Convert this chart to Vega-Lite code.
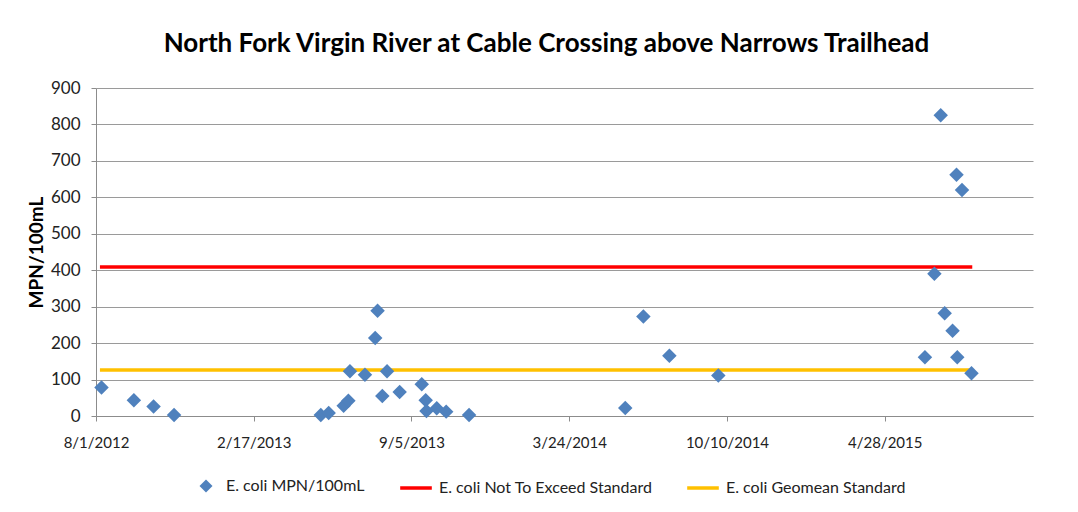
{
  "$schema": "https://vega.github.io/schema/vega-lite/v6.json",
  "width": 937,
  "height": 328,
  "autosize": {"type": "none"},
  "padding": {"left": 96, "top": 88, "right": 45, "bottom": 96},
  "background": "white",
  "config": {
    "font": "Lato",
    "view": {"stroke": null},
    "axis": {
      "labelFont": "Lato",
      "labelColor": "#222222",
      "tickColor": "#8c8c8c",
      "domainColor": "#8c8c8c",
      "gridColor": "#9a9a9a",
      "tickSize": 5,
      "labelOverlap": false
    }
  },
  "title": {
    "text": "North Fork Virgin River at Cable Crossing above Narrows Trailhead",
    "fontSize": 26,
    "fontWeight": "bold",
    "font": "Lato",
    "color": "#000000",
    "anchor": "middle",
    "dx": -18,
    "offset": 22
  },
  "encoding": {
    "x": {
      "field": "date",
      "type": "temporal",
      "scale": {
        "type": "utc",
        "domain": [
          {"year": 2012, "month": 8, "date": 1, "utc": true},
          {"year": 2015, "month": 11, "date": 2, "utc": true}
        ]
      },
      "axis": {
        "title": null,
        "grid": false,
        "format": "%-m/%-d/%Y",
        "labelFontSize": 15,
        "labelPadding": 14,
        "labelFlush": false,
        "values": [
          {"year": 2012, "month": 8, "date": 1, "utc": true},
          {"year": 2013, "month": 2, "date": 17, "utc": true},
          {"year": 2013, "month": 9, "date": 5, "utc": true},
          {"year": 2014, "month": 3, "date": 24, "utc": true},
          {"year": 2014, "month": 10, "date": 10, "utc": true},
          {"year": 2015, "month": 4, "date": 28, "utc": true}
        ]
      }
    },
    "y": {
      "field": "value",
      "type": "quantitative",
      "scale": {"domain": [0, 900], "nice": false},
      "axis": {
        "title": "MPN/100mL",
        "titleFont": "Lato",
        "titleFontSize": 19,
        "titleFontWeight": "bold",
        "titleColor": "#000000",
        "titlePadding": 4,
        "labelFontSize": 17,
        "labelPadding": 11,
        "values": [0, 100, 200, 300, 400, 500, 600, 700, 800, 900],
        "grid": true
      }
    }
  },
  "layer": [
    {
      "data": {
        "values": [
          {"date": "2012-08-06", "value": 409, "series": "E. coli Not To Exceed Standard"},
          {"date": "2015-08-17", "value": 409, "series": "E. coli Not To Exceed Standard"},
          {"date": "2012-08-06", "value": 126, "series": "E. coli Geomean Standard"},
          {"date": "2015-08-17", "value": 126, "series": "E. coli Geomean Standard"}
        ]
      },
      "mark": {"type": "line", "strokeWidth": 3.5},
      "encoding": {
        "color": {
          "field": "series",
          "type": "nominal",
          "scale": {
            "domain": ["E. coli Not To Exceed Standard", "E. coli Geomean Standard"],
            "range": ["#FF0000", "#FFC000"]
          },
          "legend": {
            "title": null,
            "orient": "none",
            "direction": "horizontal",
            "legendX": 302,
            "legendY": 382,
            "symbolType": "stroke",
            "symbolSize": 1000,
            "symbolStrokeWidth": 3.5,
            "labelFontSize": 16,
            "labelFont": "Lato",
            "labelColor": "#222222",
            "labelOffset": 5,
            "labelLimit": 0,
            "columnPadding": 27
          }
        }
      }
    },
    {
      "data": {
        "values": [
          {"date": "2012-08-08", "value": 78, "series": "E. coli MPN/100mL"},
          {"date": "2012-09-18", "value": 43, "series": "E. coli MPN/100mL"},
          {"date": "2012-10-13", "value": 26, "series": "E. coli MPN/100mL"},
          {"date": "2012-11-08", "value": 3, "series": "E. coli MPN/100mL"},
          {"date": "2013-05-13", "value": 3, "series": "E. coli MPN/100mL"},
          {"date": "2013-05-23", "value": 8, "series": "E. coli MPN/100mL"},
          {"date": "2013-06-11", "value": 28, "series": "E. coli MPN/100mL"},
          {"date": "2013-06-17", "value": 42, "series": "E. coli MPN/100mL"},
          {"date": "2013-06-19", "value": 123, "series": "E. coli MPN/100mL"},
          {"date": "2013-07-08", "value": 113, "series": "E. coli MPN/100mL"},
          {"date": "2013-07-21", "value": 214, "series": "E. coli MPN/100mL"},
          {"date": "2013-07-24", "value": 289, "series": "E. coli MPN/100mL"},
          {"date": "2013-07-30", "value": 55, "series": "E. coli MPN/100mL"},
          {"date": "2013-08-05", "value": 123, "series": "E. coli MPN/100mL"},
          {"date": "2013-08-21", "value": 66, "series": "E. coli MPN/100mL"},
          {"date": "2013-09-18", "value": 87, "series": "E. coli MPN/100mL"},
          {"date": "2013-09-23", "value": 43, "series": "E. coli MPN/100mL"},
          {"date": "2013-09-24", "value": 14, "series": "E. coli MPN/100mL"},
          {"date": "2013-10-07", "value": 21, "series": "E. coli MPN/100mL"},
          {"date": "2013-10-19", "value": 12, "series": "E. coli MPN/100mL"},
          {"date": "2013-11-17", "value": 3, "series": "E. coli MPN/100mL"},
          {"date": "2014-06-03", "value": 22, "series": "E. coli MPN/100mL"},
          {"date": "2014-06-26", "value": 273, "series": "E. coli MPN/100mL"},
          {"date": "2014-07-29", "value": 165, "series": "E. coli MPN/100mL"},
          {"date": "2014-09-29", "value": 111, "series": "E. coli MPN/100mL"},
          {"date": "2015-06-18", "value": 161, "series": "E. coli MPN/100mL"},
          {"date": "2015-06-30", "value": 390, "series": "E. coli MPN/100mL"},
          {"date": "2015-07-08", "value": 825, "series": "E. coli MPN/100mL"},
          {"date": "2015-07-13", "value": 282, "series": "E. coli MPN/100mL"},
          {"date": "2015-07-23", "value": 234, "series": "E. coli MPN/100mL"},
          {"date": "2015-07-28", "value": 662, "series": "E. coli MPN/100mL"},
          {"date": "2015-07-29", "value": 161, "series": "E. coli MPN/100mL"},
          {"date": "2015-08-04", "value": 620, "series": "E. coli MPN/100mL"},
          {"date": "2015-08-16", "value": 117, "series": "E. coli MPN/100mL"}
        ]
      },
      "mark": {"type": "point", "filled": true, "opacity": 1, "size": 210, "color": "#4F81BD"},
      "encoding": {
        "shape": {
          "field": "series",
          "type": "nominal",
          "scale": {"domain": ["E. coli MPN/100mL"], "range": ["diamond"]},
          "legend": {
            "title": null,
            "orient": "none",
            "direction": "horizontal",
            "legendX": 102,
            "legendY": 390,
            "symbolSize": 170,
            "symbolFillColor": "#4F81BD",
            "symbolStrokeWidth": 0,
            "symbolOpacity": 1,
            "labelFontSize": 16,
            "labelFont": "Lato",
            "labelColor": "#222222",
            "labelOffset": 12,
            "labelLimit": 0
          }
        }
      }
    }
  ]
}
